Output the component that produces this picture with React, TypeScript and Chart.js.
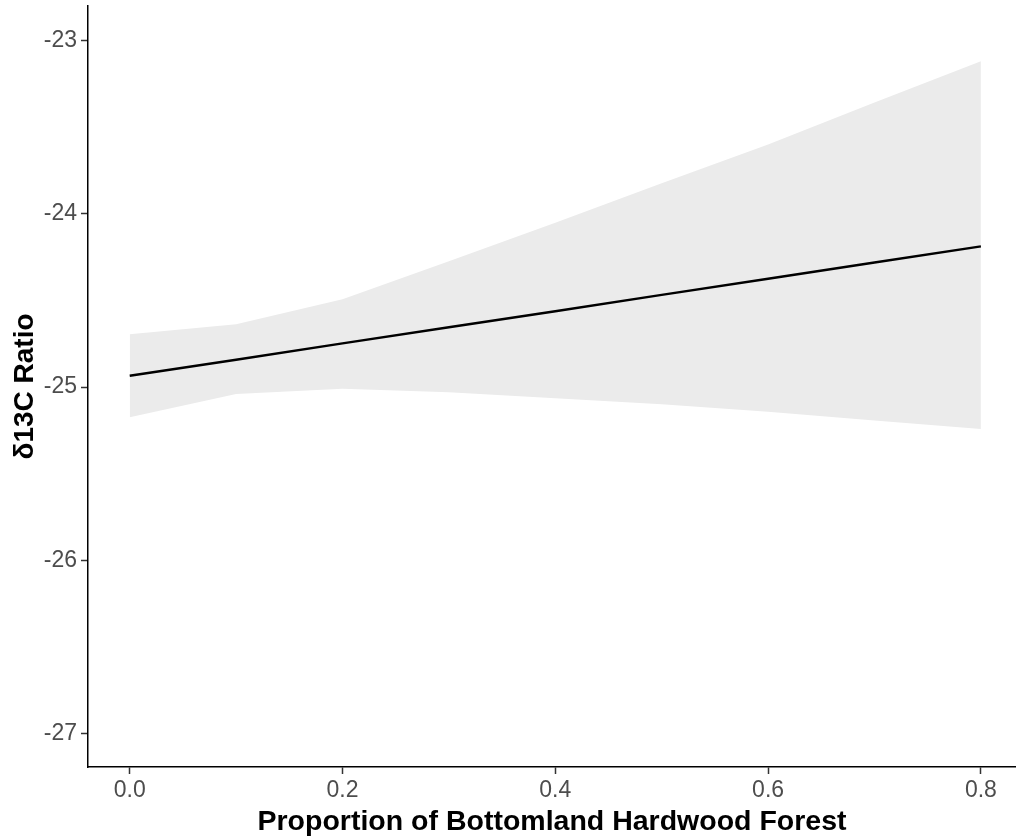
import React, { useEffect, useRef } from "react";
import { Chart, registerables } from "chart.js";

Chart.register(...registerables);

const xValues = [0, 0.1, 0.2, 0.3, 0.4, 0.5, 0.6, 0.7, 0.8];
const fitValues = [-24.935, -24.842, -24.748, -24.655, -24.562, -24.468, -24.375, -24.281, -24.188];
const upperValues = [-24.695, -24.637, -24.493, -24.274, -24.052, -23.824, -23.599, -23.357, -23.119];
const lowerValues = [-25.175, -25.04, -25.01, -25.03, -25.065, -25.1, -25.143, -25.193, -25.242];
const xTicks = [0, 0.2, 0.4, 0.6, 0.8];
const yTicks = [-27, -26, -25, -24, -23];

const xTitle = "Proportion of Bottomland Hardwood Forest";
const yTitle = "δ13C Ratio";

export default function App() {
  const ref = useRef<HTMLCanvasElement | null>(null);

  useEffect(() => {
    if (!ref.current) return;
    const pts = (vals: number[]) => xValues.map((x, i) => ({ x, y: vals[i] }));
    const font = "Arial, 'Liberation Sans', sans-serif";
    const chart = new Chart(ref.current, {
      type: "line",
      data: {
        datasets: [
          {
            label: "fit",
            data: pts(fitValues),
            borderColor: "#000000",
            borderWidth: 2.5,
            pointRadius: 0,
            fill: false,
            tension: 0,
          },
          {
            label: "upper",
            data: pts(upperValues),
            borderWidth: 0,
            borderColor: "rgba(0,0,0,0)",
            backgroundColor: "#EBEBEB",
            pointRadius: 0,
            fill: "+1",
            tension: 0,
          },
          {
            label: "lower",
            data: pts(lowerValues),
            borderWidth: 0,
            borderColor: "rgba(0,0,0,0)",
            pointRadius: 0,
            fill: false,
            tension: 0,
          },
        ],
      },
      options: {
        animation: false,
        responsive: true,
        maintainAspectRatio: false,
        layout: { padding: { top: 6, right: 0, left: 0, bottom: 0 } },
        plugins: {
          legend: { display: false },
          tooltip: { enabled: false },
        },
        scales: {
          x: {
            type: "linear",
            min: -0.0392,
            max: 0.833,
            afterBuildTicks: (s: any) => {
              s.ticks = xTicks.map((v) => ({ value: v }));
            },
            afterFit: (s: any) => {
              s.height = 72;
              s.paddingLeft = 0;
              s.paddingRight = 0;
            },
            ticks: {
              color: "#4D4D4D",
              font: { family: font, size: 23 },
              padding: 3,
              maxRotation: 0,
              autoSkip: false,
              callback: (v: any) => Number(v).toFixed(1),
            },
            grid: {
              drawOnChartArea: false,
              drawTicks: true,
              tickLength: 7,
              tickColor: "#333333",
              tickWidth: 1.5,
            },
            border: { display: true, color: "#000000", width: 1.5 },
            title: {
              display: true,
              text: xTitle,
              color: "#000000",
              font: { family: font, size: 28.5, weight: "bold" },
              padding: { top: 0, bottom: 0 },
            },
          },
          y: {
            type: "linear",
            min: -27.194,
            max: -22.8,
            afterBuildTicks: (s: any) => {
              s.ticks = yTicks.map((v) => ({ value: v }));
            },
            afterFit: (s: any) => {
              s.width = 88;
              s.paddingTop = 0;
              s.paddingBottom = 0;
            },
            ticks: {
              color: "#4D4D4D",
              font: { family: font, size: 23 },
              padding: 4,
              autoSkip: false,
              callback: (v: any) => String(v),
            },
            grid: {
              drawOnChartArea: false,
              drawTicks: true,
              tickLength: 7,
              tickColor: "#333333",
              tickWidth: 1.5,
            },
            border: { display: true, color: "#000000", width: 1.5 },
            title: {
              display: true,
              text: yTitle,
              color: "#000000",
              font: { family: font, size: 28, weight: "bold" },
              padding: { top: 8, bottom: 0 },
            },
          },
        },
      },
    } as any);
    return () => chart.destroy();
  }, []);

  return (
    <div style={{ position: "absolute", left: 0, top: 0, width: 1016, height: 839, background: "#ffffff" }}>
      <canvas ref={ref} />
    </div>
  );
}
